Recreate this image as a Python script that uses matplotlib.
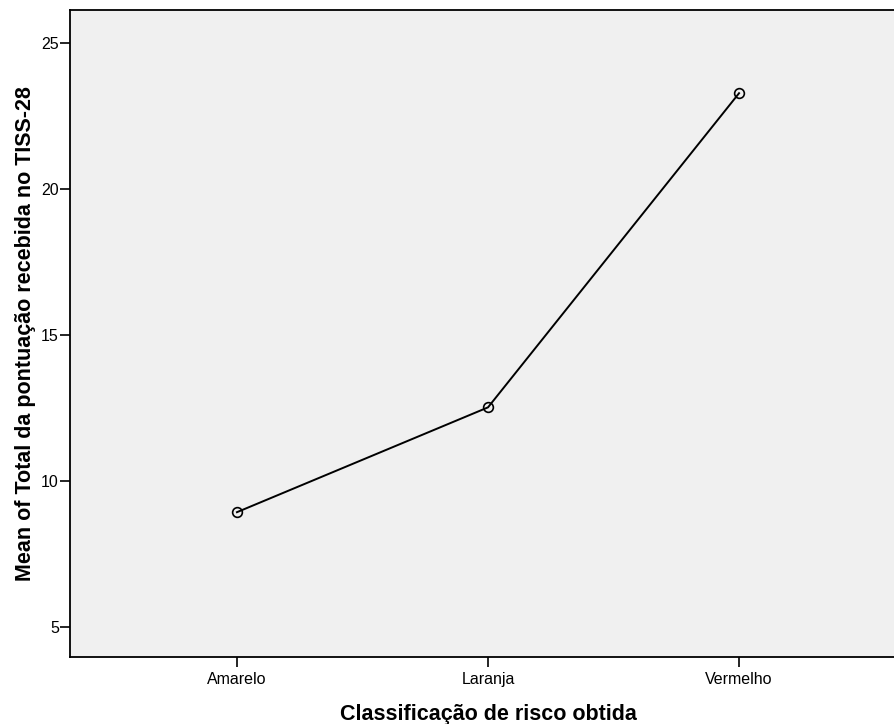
import matplotlib
matplotlib.use("Agg")
import matplotlib.pyplot as plt

categories = ["Amarelo", "Laranja", "Vermelho"]
means = [8.93, 12.52, 23.28]
y_ticks = [5, 10, 15, 20, 25]

plt.rcParams['font.family'] = ['Liberation Sans', 'DejaVu Sans']

fig = plt.figure(figsize=(8.94, 7.24), dpi=100)
W, H = 894, 724
left, top, bottom, right = 70, 10, 657, 906
ax = fig.add_axes([left / W, (H - bottom) / H, (right - left) / W, (bottom - top) / H])
ax.set_facecolor('#f0f0f0')

x = list(range(len(categories)))
ax.plot(x, means, color='black', linewidth=1.4, marker='o', markersize=7,
        markerfacecolor='none', markeredgecolor='black', markeredgewidth=1.2)

ax.set_xlim(-0.665, 2.665)
ax.set_ylim(3.97, 26.13)
ax.set_xticks(x)
ax.set_xticklabels(categories, fontsize=11.5)
ax.set_yticks(y_ticks)
ax.set_yticklabels([str(v) for v in y_ticks], fontsize=11.5)
ax.tick_params(axis='x', direction='out', length=7, width=1.2, pad=4)
ax.tick_params(axis='y', direction='out', length=7, width=1.2, pad=1)
for s in ax.spines.values():
    s.set_linewidth(1.3)

ax.set_xlabel("Classificação de risco obtida", fontsize=15.5, fontweight='bold', labelpad=12)
ax.set_ylabel("Mean of Total da pontuação recebida no TISS-28", fontsize=15.5, fontweight='bold', labelpad=4)

fig.savefig("out.png", dpi=100)
